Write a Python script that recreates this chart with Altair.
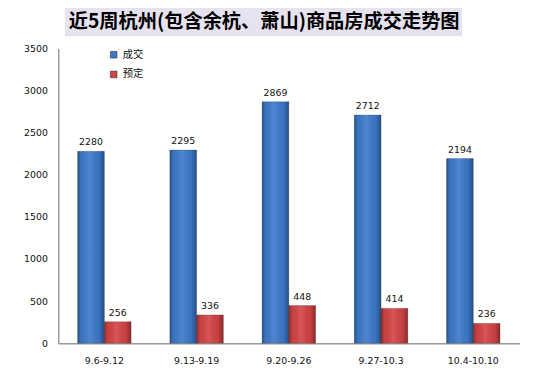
import altair as alt
import pandas as pd

title_text = "近5周杭州(包含余杭、萧山)商品房成交走势图"
categories = ["9.6-9.12", "9.13-9.19", "9.20-9.26", "9.27-10.3", "10.4-10.10"]
series_names = ["成交", "预定"]
deals = [2280, 2295, 2869, 2712, 2194]
bookings = [256, 336, 448, 414, 236]
y_ticks = [0, 500, 1000, 1500, 2000, 2500, 3000, 3500]

rows = []
for c, d, b in zip(categories, deals, bookings):
    rows.append({"week": c, "series": series_names[0], "value": d})
    rows.append({"week": c, "series": series_names[1], "value": b})
df = pd.DataFrame(rows)

num_font = "DejaVu Sans"
cjk_font = "Noto Sans CJK SC"

base = alt.Chart(df).encode(
    x=alt.X("week:N", sort=categories,
            scale=alt.Scale(paddingInner=0.42, paddingOuter=0.21),
            axis=alt.Axis(title=None, labelAngle=0, ticks=False, tickSize=0,
                          labelPadding=13, labelFont=num_font, labelFontSize=9.5,
                          labelColor="#111", domainColor="#9a9a9a", domainWidth=1.5)),
    xOffset=alt.XOffset("series:N", sort=series_names,
                        scale=alt.Scale(paddingInner=0, paddingOuter=0)),
    y=alt.Y("value:Q", scale=alt.Scale(domain=[0, 3500], nice=False),
            axis=alt.Axis(title=None, values=y_ticks, format="d", grid=False,
                          ticks=False, tickSize=0,
                          labelPadding=11, labelFont=num_font, labelFontSize=9.5,
                          labelColor="#111", domainColor="#9a9a9a", domainWidth=1.5)),
)

bars = base.mark_bar(stroke="#3a3a3a", strokeWidth=0.4, strokeOpacity=0.6).encode(
    color=alt.Color("series:N", sort=series_names,
                    scale=alt.Scale(domain=series_names, range=["#3C79C9", "#D24343"]),
                    legend=alt.Legend(title=None, orient="none", legendX=51, legendY=1,
                                      symbolType="square", symbolSize=45,
                                      symbolStrokeColor="#333", symbolStrokeWidth=0.6,
                                      labelFont=cjk_font, labelFontSize=10.5,
                                      labelColor="#111", rowPadding=9, padding=0,
                                      labelOffset=4))
)

shade = base.mark_bar(
    fill=alt.Gradient(
        gradient="linear", x1=0, x2=1, y1=0, y2=0,
        stops=[
            alt.GradientStop(color="rgba(0,0,0,0.35)", offset=0),
            alt.GradientStop(color="rgba(0,0,0,0.05)", offset=0.12),
            alt.GradientStop(color="rgba(255,255,255,0.10)", offset=0.45),
            alt.GradientStop(color="rgba(0,0,0,0.05)", offset=0.8),
            alt.GradientStop(color="rgba(0,0,0,0.35)", offset=1),
        ],
    )
)

labels = base.mark_text(dy=-6, baseline="alphabetic", font=num_font,
                        fontSize=9.5, color="#111").encode(text="value:Q")

tdf = pd.DataFrame({"t": [title_text]})
title_bg = alt.Chart(tdf).mark_rect(color="#E7E2EF").encode(
    x=alt.value(6.7), x2=alt.value(409.7), y=alt.value(-41.5), y2=alt.value(-12.5)
)
title = alt.Chart(tdf).mark_text(font=cjk_font, fontSize=19.5, fontWeight="bold",
                                 color="#000", align="center", baseline="middle").encode(
    x=alt.value(209), y=alt.value(-26.5), text="t:N"
)

chart = alt.layer(title_bg, title, bars, shade, labels).properties(
    width=468, height=299,
    autosize=alt.AutoSizeParams(type="none"),
    padding={"left": 51, "top": 38.5, "right": 28, "bottom": 24.5},
    background="white",
).configure_view(stroke=None)

chart.save("out.html", embed_options={"renderer": "svg", "actions": False})
